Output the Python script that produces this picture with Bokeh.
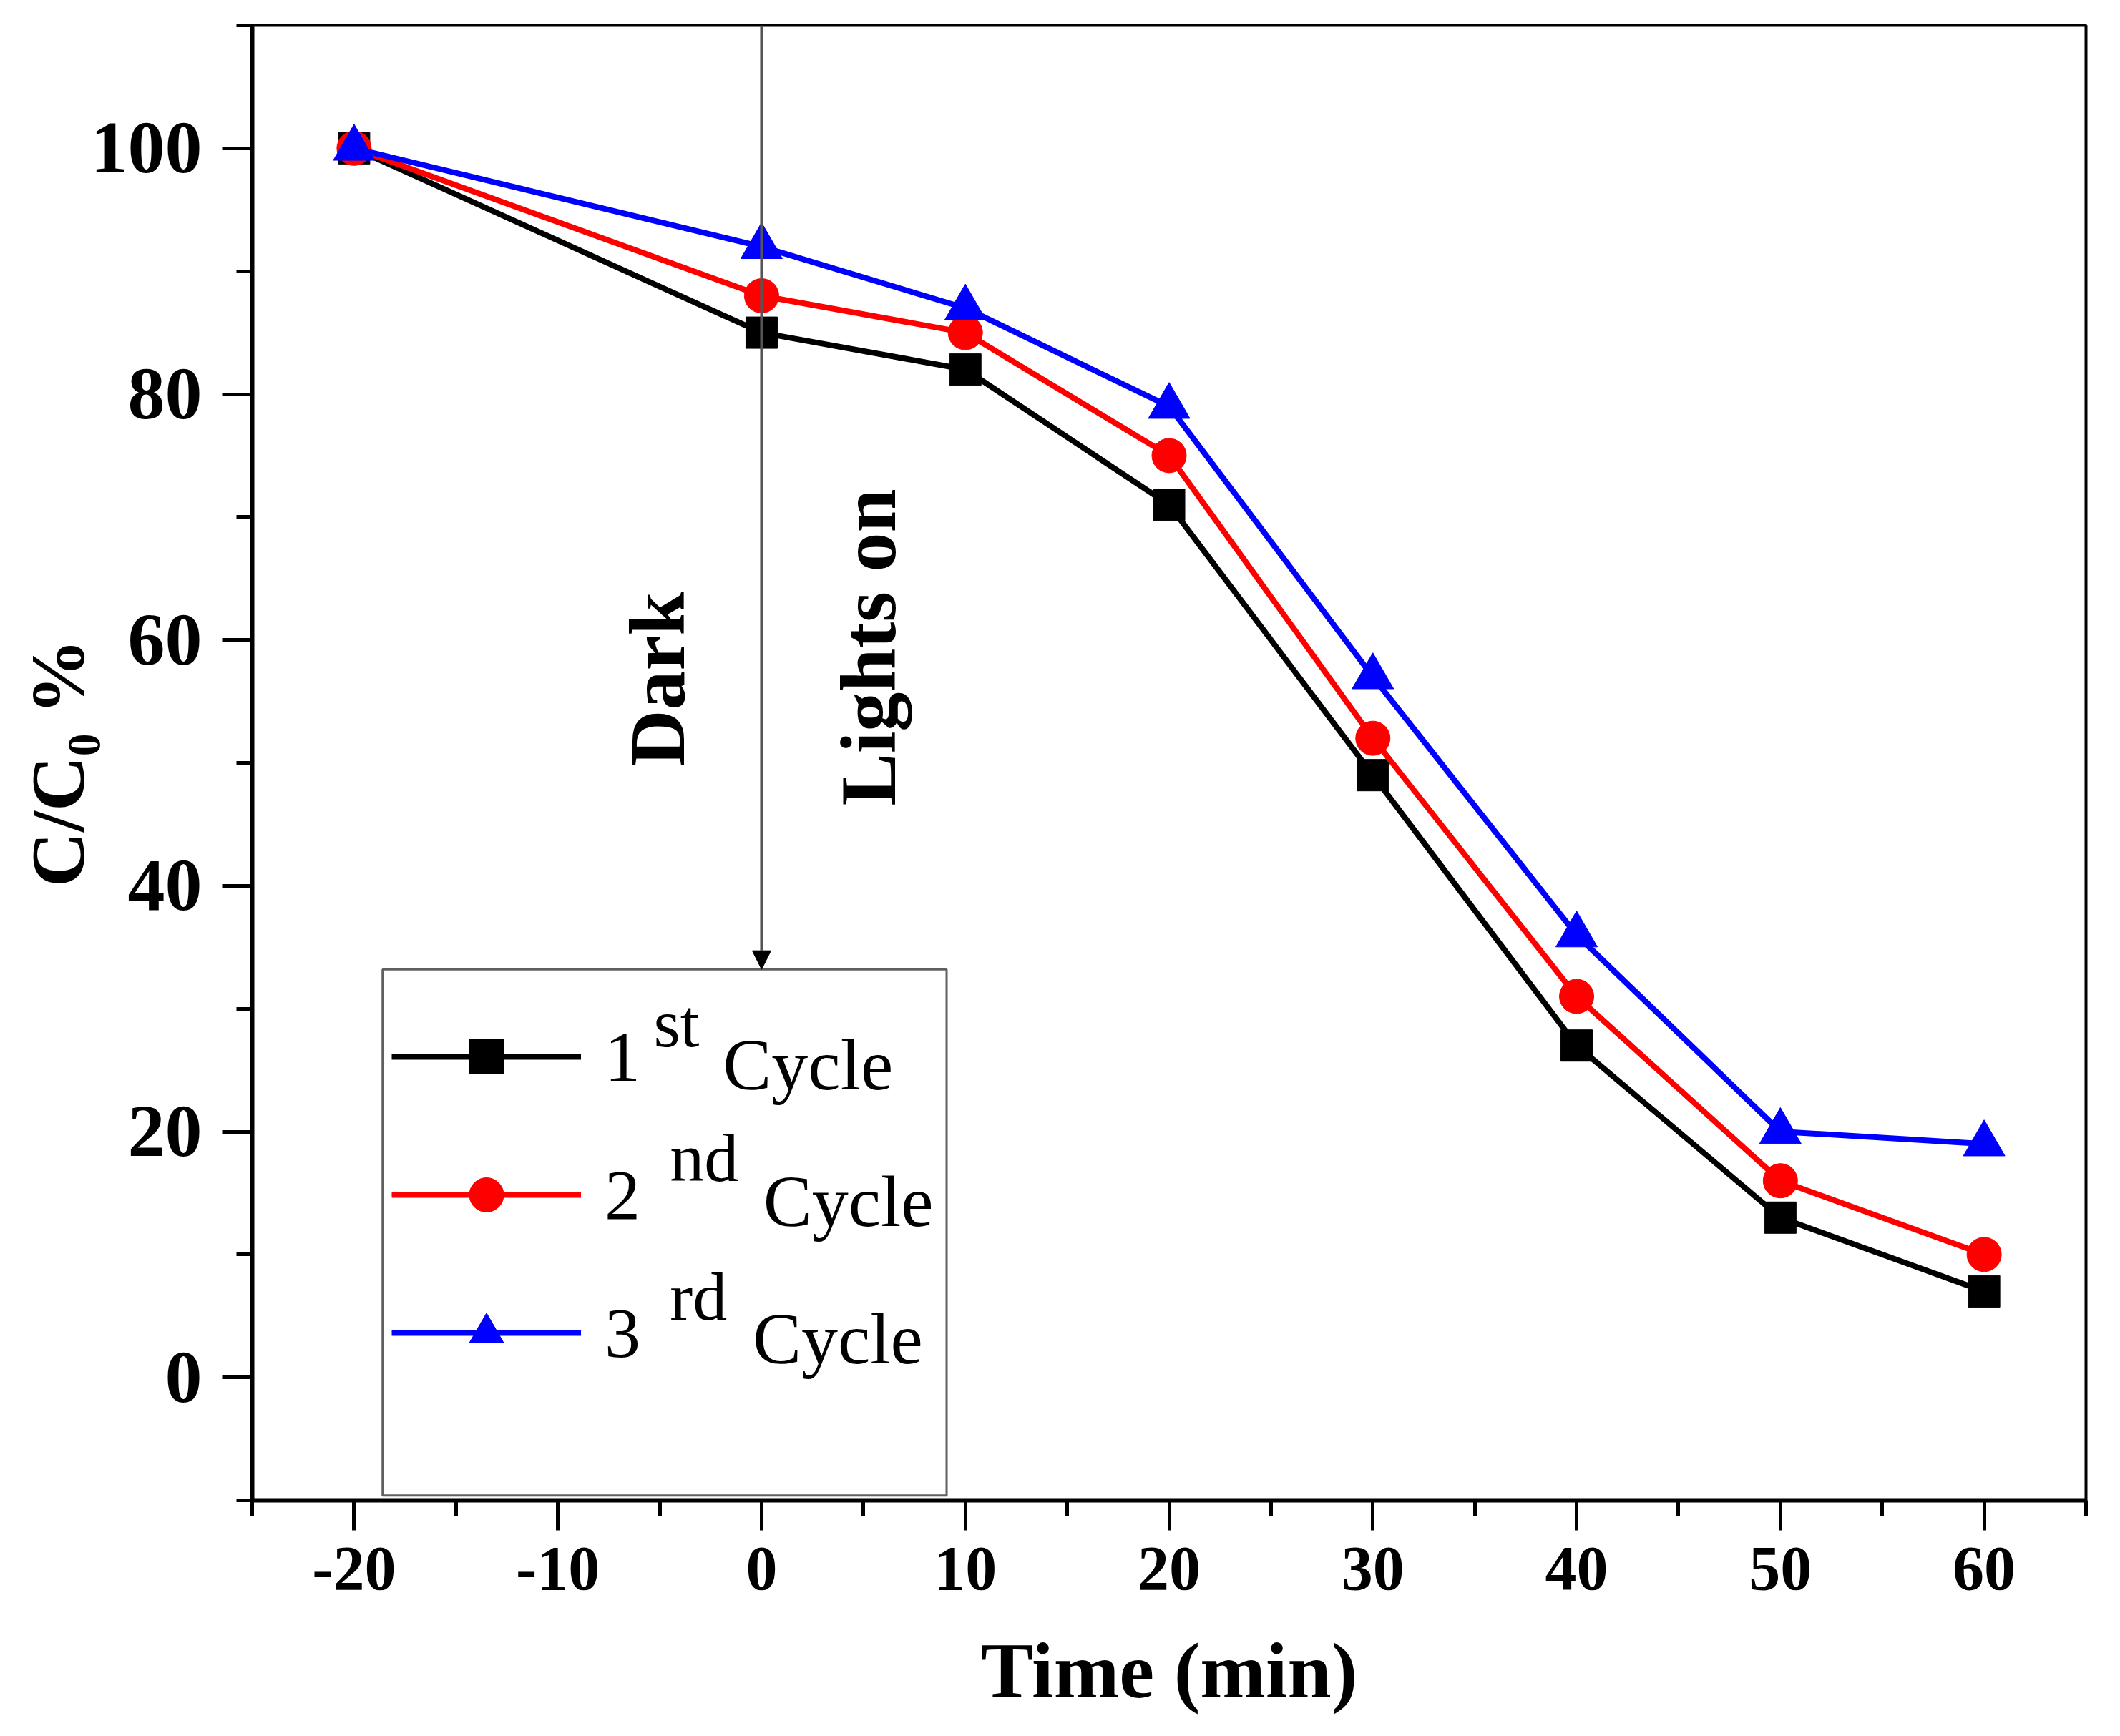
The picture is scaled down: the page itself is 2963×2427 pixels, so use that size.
from math import pi
from bokeh.plotting import figure
from bokeh.models import (Range1d, SingleIntervalTicker, Legend, LegendItem,
                          BoxAnnotation, Arrow, NormalHead, Label, ColumnDataSource)
from bokeh.embed import file_html
from bokeh.resources import INLINE

# ---------------- data ----------------
time_min = [-20, 0, 10, 20, 30, 40, 50, 60]
cycle1 = [100, 85, 82, 71, 49, 27, 13, 7]
cycle2 = [100, 88, 85, 75, 52, 31, 16, 10]
cycle3 = [100, 92, 87, 79, 57, 36, 20, 19]
ordinals = ["1", "2", "3"]
suffixes = ["st", "nd", "rd"]
cycle_word = "Cycle"
x_label = "Time (min)"
y_label = "C/C\u2080 %"
note_dark = "Dark"
note_light = "Lights on"
x_tick_text = {-20: "-20", -10: "-10"}

SERIF = "Liberation Serif"

p = figure(width=2947, height=2411, output_backend="svg", toolbar_location=None,
           x_range=Range1d(-25, 65), y_range=Range1d(-10, 110),
           min_border_left=352, min_border_right=32, min_border_top=35,
           min_border_bottom=314)
p.grid.visible = False
p.background_fill_color = "white"
p.border_fill_color = "white"
p.outline_line_color = "black"
p.outline_line_width = 4

p.xaxis.ticker = SingleIntervalTicker(interval=10, num_minor_ticks=2)
p.yaxis.ticker = SingleIntervalTicker(interval=20, num_minor_ticks=2)
p.xaxis.major_label_overrides = x_tick_text

for ax in (p.xaxis[0], p.yaxis[0]):
    ax.axis_line_width = 6
    ax.axis_line_color = "black"
    ax.major_tick_line_width = 5
    ax.minor_tick_line_width = 5
    ax.major_tick_in = 0
    ax.minor_tick_in = 0
    ax.major_tick_out = 42
    ax.minor_tick_out = 22
    ax.major_label_text_font = SERIF
    ax.major_label_text_font_style = "bold"
    ax.major_label_text_color = "black"
    ax.axis_label_text_font = SERIF
    ax.axis_label_text_font_style = "bold"
    ax.axis_label_text_color = "black"

p.xaxis.major_label_text_font_size = "88px"
p.xaxis.major_label_standoff = 24
p.xaxis.axis_label = x_label
p.xaxis.axis_label_text_font_size = "110px"
p.xaxis.axis_label_standoff = 50

p.yaxis.major_label_text_font_size = "104px"
p.yaxis.major_label_standoff = 28
p.yaxis.axis_label = y_label
p.yaxis.axis_label_text_font_size = "106px"
p.yaxis.axis_label_standoff = -16

# ---------------- series ----------------
series = [
    (cycle1, "black", "square", 44),
    (cycle2, "#ff0000", "circle", 48),
    (cycle3, "#0000ff", "triangle", 58),
]
items = []
for (vals, col, mk, sz), num in zip(series, ordinals):
    src = ColumnDataSource(dict(x=time_min, y=vals))
    ln = p.line("x", "y", source=src, line_color=col, line_width=8)
    sc = p.scatter("x", "y", source=src, marker=mk, size=sz,
                   fill_color=col, line_color=col)
    items.append(LegendItem(label=num, renderers=[ln, sc]))

# ---------------- legend frame ----------------
box = BoxAnnotation(left=-18.6, right=9.08, top=33.2, bottom=-9.6,
                    fill_color="white", fill_alpha=1.0,
                    line_color="#606060", line_alpha=1.0, line_width=3)
p.add_layout(box)

# ---------------- arrow & notes ----------------
p.add_layout(Arrow(end=NormalHead(size=26, fill_color="black", line_color="black", line_width=1),
                   x_start=0, y_start=110, x_end=0, y_end=33.2,
                   line_color="#555555", line_width=4))

p.add_layout(Label(x=-5.1, y=56.8, text=note_dark, angle=pi / 2,
                   text_align="center", text_baseline="alphabetic",
                   text_font=SERIF, text_font_style="bold", text_font_size="110px",
                   text_color="black"))
p.add_layout(Label(x=5.25, y=59.4, text=note_light, angle=pi / 2,
                   text_align="center", text_baseline="alphabetic",
                   text_font=SERIF, text_font_style="bold", text_font_size="110px",
                   text_color="black"))

legend = Legend(items=items, location=(195, 174), orientation="vertical",
                glyph_width=265, glyph_height=120, label_height=120,
                spacing=73, padding=0, margin=0, label_standoff=33,
                border_line_color=None, background_fill_alpha=0,
                label_text_font=SERIF, label_text_font_size="100px",
                label_text_color="black")
p.add_layout(legend)

sup_pos = [(-5.3, 28.8), (-4.5, 17.9), (-4.5, 6.6)]
word_pos = [(-1.9, 25.45), (0.08, 14.3), (-0.44, 3.15)]
for suf, (sx, sy), (wx, wy) in zip(suffixes, sup_pos, word_pos):
    p.add_layout(Label(x=sx, y=sy, text=suf, text_align="left", text_baseline="alphabetic",
                       text_font=SERIF, text_font_size="96px", text_color="black"))
    p.add_layout(Label(x=wx, y=wy, text=cycle_word, text_align="left", text_baseline="alphabetic",
                       text_font=SERIF, text_font_size="102px", text_color="black"))

open("out.html", "w").write(file_html(p, INLINE))
